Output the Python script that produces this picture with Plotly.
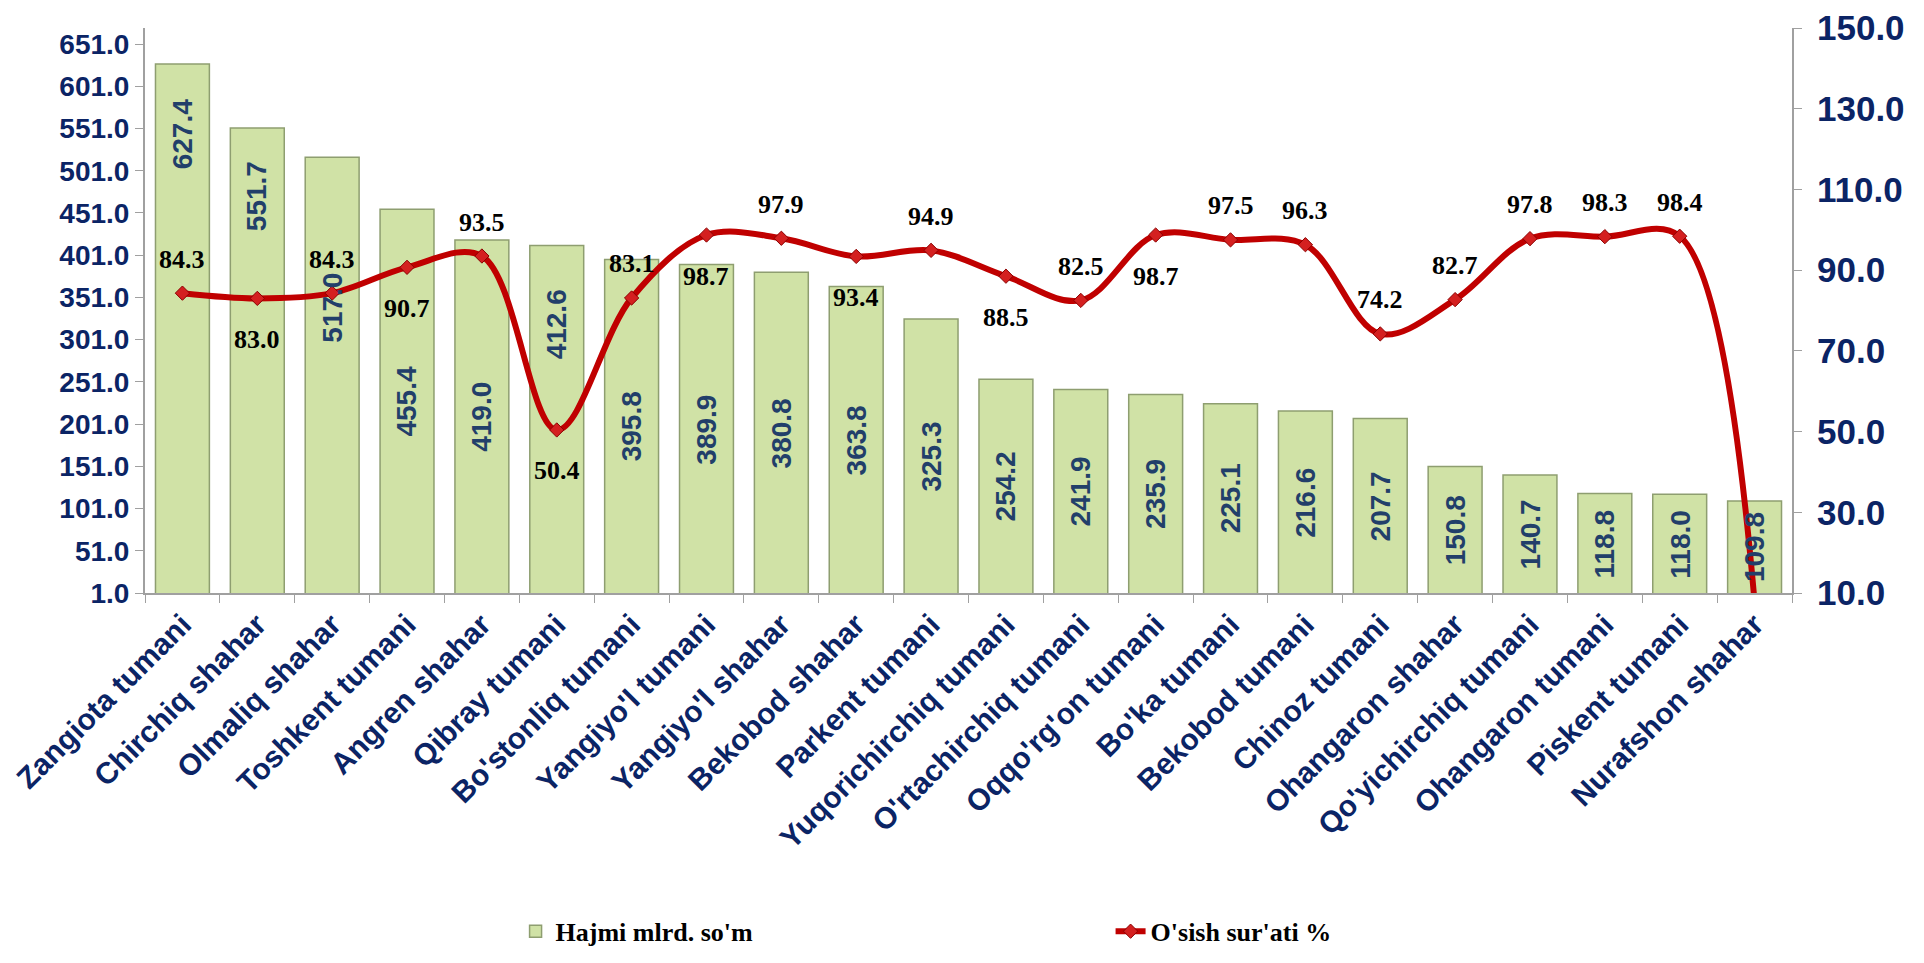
import plotly.graph_objects as go

# data
districts = [
    "Zangiota tumani", "Chirchiq shahar", "Olmaliq shahar", "Toshkent tumani",
    "Angren shahar", "Qibray tumani", "Bo'stonliq tumani", "Yangiyo'l tumani",
    "Yangiyo'l shahar", "Bekobod shahar", "Parkent tumani", "Yuqorichirchiq tumani",
    "O'rtachirchiq tumani", "Oqqo'rg'on tumani", "Bo'ka tumani", "Bekobod tumani",
    "Chinoz tumani", "Ohangaron shahar", "Qo'yichirchiq tumani", "Ohangaron tumani",
    "Piskent tumani", "Nurafshon shahar",
]
volume = [627.4, 551.7, 517.0, 455.4, 419.0, 412.6, 395.8, 389.9, 380.8, 363.8, 325.3,
          254.2, 241.9, 235.9, 225.1, 216.6, 207.7, 150.8, 140.7, 118.8, 118.0, 109.8]
growth = [84.3, 83.0, 84.3, 90.7, 93.5, 50.4, 83.1, 98.7, 97.9, 93.4, 94.9,
          88.5, 82.5, 98.7, 97.5, 96.3, 74.2, 82.7, 97.8, 98.3, 98.4, 7.8]

left_ticks = [1, 51, 101, 151, 201, 251, 301, 351, 401, 451, 501, 551, 601, 651]
right_ticks = [10, 30, 50, 70, 90, 110, 130, 150]

# label placement (style only)
growth_label_side = ["up", "down", "up", "down", "up", "down", "up", "down", "up", "down", "up",
                     "down", "up", "down", "up", "up", "up", "up", "up", "up", "up", None]
bar_label_shift = [195, 165, 68, 0, 0, 95, 0, 0, 0, 0, 0,
                   0, 0, 0, 0, 0, 0, 0, 0, 0, 0, 0]

NAVY = "#0B2465"
SANS = "Liberation Sans, Arial, sans-serif"
SERIF = "Liberation Serif, Times New Roman, serif"

fig = go.Figure()

fig.add_trace(go.Bar(
    x=districts, y=volume, name="Hajmi mlrd. so'm",
    marker=dict(color="#D0E2A6", line=dict(color="#8E9E70", width=1.5)),
    width=0.72, base=0,
    hoverinfo="x+y",
))

fig.add_trace(go.Scatter(
    x=districts, y=growth, name="O'sish sur'ati %", yaxis="y2",
    mode="lines+markers",
    line=dict(color="#C00000", width=6, shape="spline", smoothing=1),
    marker=dict(symbol="diamond", size=11, color="#D42020", line=dict(color="#8B0000", width=1)),
    cliponaxis=True,
))

annotations = []
for name, v, sh in zip(districts, volume, bar_label_shift):
    annotations.append(dict(
        x=name, y=v / 2, xref="x", yref="y", text=f"{v:.1f}", textangle=-90,
        showarrow=False, yshift=sh,
        font=dict(family=SANS, size=28, color="#223F6A", weight="bold"),
    ))
for name, g, side in zip(districts, growth, growth_label_side):
    if side is None:
        continue
    annotations.append(dict(
        x=name, y=g, xref="x", yref="y2", text=f"{g:.1f}", showarrow=False,
        yshift=34 if side == "up" else -41,
        font=dict(family=SERIF, size=26, color="black", weight="bold"),
    ))

# page body keeps its 8px margin, so the figure is sized to fit the window
fig.update_layout(
    width=1908, height=946,
    margin=dict(l=137, r=124, t=20, b=361),
    plot_bgcolor="white", paper_bgcolor="white",
    annotations=annotations,
    xaxis=dict(
        type="category", range=[-0.5, len(districts) - 0.5], automargin=False,
        tickson="boundaries", ticks="outside", ticklen=8,
        tickcolor="#A0A0A0", showline=True, linecolor="#A0A0A0", linewidth=2,
        showgrid=False, tickangle=-45,
        tickfont=dict(family=SANS, size=30, color=NAVY, weight="bold"),
    ),
    yaxis=dict(
        range=[1, 670], tickvals=left_ticks, tickformat=".1f", automargin=False,
        ticks="outside", ticklen=8, tickcolor="#A0A0A0",
        showline=True, linecolor="#A0A0A0", linewidth=2, showgrid=False, zeroline=False,
        tickfont=dict(family=SANS, size=28, color=NAVY, weight="bold"),
    ),
    yaxis2=dict(
        range=[10, 150], tickvals=right_ticks, tickformat=".1f", overlaying="y", side="right",
        automargin=False, ticklabeloverflow="allow",
        ticks="outside", ticklen=8, tickcolor="#A0A0A0", ticklabelstandoff=8,
        showline=True, linecolor="#A0A0A0", linewidth=2, showgrid=False, zeroline=False,
        tickfont=dict(family=SANS, size=35, color=NAVY, weight="bold"),
    ),
    legend=dict(
        orientation="h", x=0.225, xanchor="left",
        yref="container", y=0.024, yanchor="middle",
        entrywidth=550, entrywidthmode="pixels",
        font=dict(family=SERIF, size=26, color="black", weight="bold"),
    ),
    showlegend=True,
)

fig.write_html("out.html")
